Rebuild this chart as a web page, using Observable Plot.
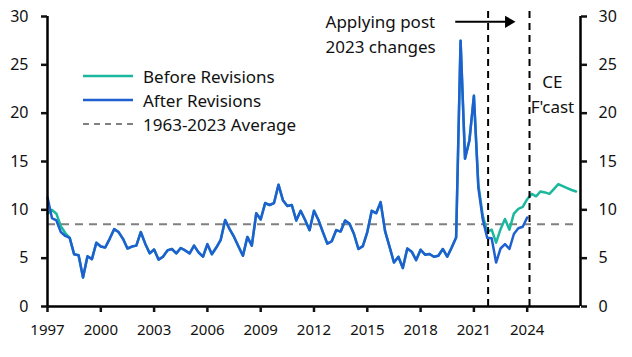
<!DOCTYPE html>
<html>
<head>
<meta charset="utf-8">
<script src="https://cdn.jsdelivr.net/npm/d3@7"></script>
<script src="https://cdn.jsdelivr.net/npm/@observablehq/plot@0.6"></script>
<style>
  html, body { margin: 0; padding: 0; background: #fff; }
  #wrap { position: relative; width: 632px; height: 357px; font-family: "Noto Sans", sans-serif; }
  .legend { position: absolute; left: 83px; top: 64px; font-size: 17px; color: #111; }
  .legend .row { display: flex; align-items: center; height: 24px; }
  .legend svg { margin-right: 10px; }
</style>
</head>
<body>
<div id="wrap"></div>
<script>
// Quarterly series, starting 1997 Q1
const startYear = 1997;
const afterRevisions = [
  11.3, 9.15, 8.9, 7.7, 7.3, 7.1, 5.4, 5.3, 3.0, 5.2, 4.9, 6.6,
  6.2, 6.1, 7.0, 8.0, 7.7, 7.0, 6.0, 6.2, 6.3, 7.7, 6.5, 5.5,
  5.9, 4.85, 5.15, 5.8, 5.95, 5.5, 6.05, 5.8, 5.5, 6.3, 5.6, 5.15,
  6.45, 5.4, 6.1, 6.9, 8.95, 8.0, 7.2, 6.2, 5.25, 7.2, 6.3, 9.65,
  9.0, 10.7, 10.5, 10.7, 12.6, 11.0, 10.4, 10.5, 8.9, 9.9, 8.95, 7.9,
  9.9, 8.95, 7.7, 6.5, 6.75, 7.9, 7.75, 8.9, 8.55, 7.5, 5.95, 6.25,
  7.7, 9.9, 9.65, 10.8, 7.8, 6.2, 4.55, 5.15, 3.98, 6.0, 5.67, 4.8,
  5.87, 5.36, 5.43, 5.15, 5.25, 5.95, 5.15, 6.1, 7.15, 27.5, 15.3, 17.2,
  21.8, 12.3, 9.0, 7.1, 7.05, 4.55, 6.0, 6.45, 5.95, 7.5, 8.1, 8.25,
  9.2
];
const beforeRevisions = [
  9.6, 10.0, 9.6, 8.3, 7.6, 7.1, 5.4, 5.3, 3.0, 5.2, 4.9, 6.6,
  6.2, 6.1, 7.0, 8.0, 7.7, 7.0, 6.0, 6.2, 6.3, 7.7, 6.5, 5.5,
  5.9, 4.85, 5.15, 5.8, 5.95, 5.5, 6.05, 5.8, 5.5, 6.3, 5.6, 5.15,
  6.45, 5.4, 6.1, 6.9, 8.95, 8.0, 7.2, 6.2, 5.25, 7.2, 6.3, 9.65,
  9.0, 10.7, 10.5, 10.7, 12.6, 11.0, 10.4, 10.5, 8.9, 9.9, 8.95, 7.9,
  9.9, 8.95, 7.7, 6.5, 6.75, 7.9, 7.75, 8.9, 8.55, 7.5, 5.95, 6.25,
  7.7, 9.9, 9.65, 10.8, 7.8, 6.2, 4.55, 5.15, 3.98, 6.0, 5.67, 4.8,
  5.87, 5.36, 5.43, 5.15, 5.25, 5.95, 5.15, 6.1, 7.15, 27.5, 15.3, 17.2,
  21.8, 12.6, 9.4, 7.7, 7.95, 6.6, 8.0, 9.05, 7.95, 9.6, 10.1, 10.3,
  11.1, 11.65, 11.4, 11.9, 11.8, 11.65, 12.15, 12.65, 12.45, 12.25, 12.05, 11.9
];
const longRunAverage = 8.5;
const averageSpan = [1997, 2026.75];
const markerYears = [2021.8, 2024.13];
const xTicks = [1997, 2000, 2003, 2006, 2009, 2012, 2015, 2018, 2021, 2024];
const yTicks = [0, 5, 10, 15, 20, 25, 30];
const seriesNames = ["Before Revisions", "After Revisions", "1963-2023 Average"];
const noteLeft = [{x: 2012.65, y: 28.35, text: "Applying post\n2023 changes"}];
const noteForecast = [{x: 2025.42, y: 22.1, text: "CE\nF'cast"}];
const arrowSpan = {x1: 2019.95, x2: 2022.85, y: 29.45, tip: 2022.95};

const colors = {before: "#1bb89f", after: "#1f5fd0", avg: "#808080"};

const toRows = (arr) => arr.map((v, i) => ({x: startYear + i / 4, y: v}));
const beforeRows = toRows(beforeRevisions);
const afterRows = toRows(afterRevisions);

const chart = Plot.plot({
  width: 632,
  height: 357,
  marginLeft: 47,
  marginRight: 52,
  marginTop: 16,
  marginBottom: 51,
  style: {fontFamily: "Noto Sans, sans-serif", fontSize: "15px", color: "#111", background: "#fff", overflow: "visible"},
  x: {domain: [1997, 2027]},
  y: {domain: [0, 30]},
  marks: [
    Plot.ruleY([longRunAverage], {x1: averageSpan[0], x2: averageSpan[1], stroke: colors.avg, strokeWidth: 2, strokeDasharray: "8,6"}),
    Plot.line(beforeRows, {x: "x", y: "y", stroke: colors.before, strokeWidth: 2.5}),
    Plot.line(afterRows, {x: "x", y: "y", stroke: colors.after, strokeWidth: 2.5}),
    Plot.ruleX(markerYears, {y1: 0, y2: 30.6, stroke: "#000", strokeWidth: 2, strokeDasharray: "7,5"}),
    Plot.ruleX([1997, 2027], {y1: 0, y2: 30, stroke: "#000", strokeWidth: 2.5}),
    Plot.ruleY([0], {x1: 1997, x2: 2027, stroke: "#000", strokeWidth: 2.5}),
    Plot.axisX({ticks: xTicks, tickFormat: d => String(d), tickSize: 6, tickPadding: 12, strokeWidth: 2.5, fontSize: 15, label: null}),
    Plot.axisY({ticks: yTicks, anchor: "left", tickSize: 6, tickPadding: 13, strokeWidth: 2.5, fontSize: 16, label: null}),
    Plot.axisY({ticks: yTicks, anchor: "right", tickSize: 6, tickPadding: 12, strokeWidth: 2.5, fontSize: 16, label: null}),
    Plot.text(noteLeft, {x: "x", y: "y", text: "text", textAnchor: "start", lineHeight: 1.5, fontSize: 17, fill: "#111"}),
    Plot.text(noteForecast, {x: "x", y: "y", text: "text", textAnchor: "middle", lineHeight: 1.45, fontSize: 17, fill: "#111"}),
    Plot.link([arrowSpan], {x1: "x1", x2: "x2", y1: "y", y2: "y", stroke: "#000", strokeWidth: 2}),
    Plot.dot([arrowSpan], {x: "tip", y: "y", symbol: "triangle", rotate: 90, r: 4.5, fill: "#000", stroke: "none"})
  ]
});

const wrap = document.getElementById("wrap");
wrap.appendChild(chart);

const legend = document.createElement("div");
legend.className = "legend";
const legendStyles = [
  {stroke: colors.before, dash: null, width: 2.5},
  {stroke: colors.after, dash: null, width: 2.5},
  {stroke: colors.avg, dash: "6,5", width: 2}
];
seriesNames.forEach((name, i) => {
  const row = document.createElement("div");
  row.className = "row";
  const s = legendStyles[i];
  row.innerHTML = `<svg width="50" height="10"><line x1="0" x2="50" y1="5" y2="5" stroke="${s.stroke}" stroke-width="${s.width}" ${s.dash ? `stroke-dasharray="${s.dash}"` : ""}/></svg><span>${name}</span>`;
  legend.appendChild(row);
});
wrap.appendChild(legend);
</script>
</body>
</html>
